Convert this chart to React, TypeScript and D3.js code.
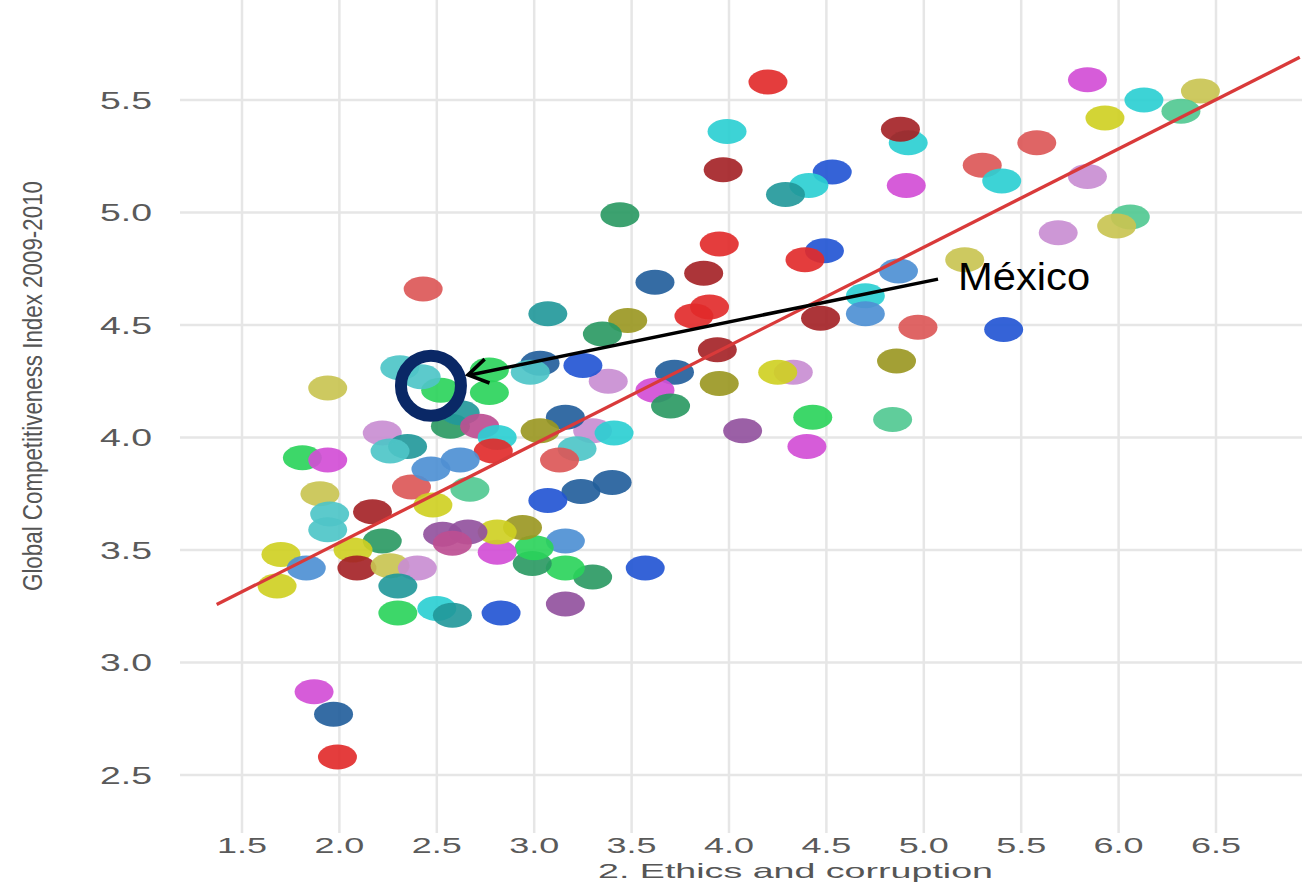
import React from "react";
import * as d3 from "d3";

const xTicks = [1.5, 2.0, 2.5, 3.0, 3.5, 4.0, 4.5, 5.0, 5.5, 6.0, 6.5];
const yTicks = [2.5, 3.0, 3.5, 4.0, 4.5, 5.0, 5.5];

const ethics = [
  4.20, 5.84, 6.13, 6.42, 6.32, 5.93, 5.58, 5.30, 5.40, 5.84,
  4.92, 4.88, 4.91, 5.69, 6.06, 5.99, 5.21, 4.87, 4.97, 5.41,
  4.86, 4.84, 4.70, 4.70, 3.99, 3.97, 4.53, 4.41, 4.29, 3.44,
  3.95, 4.49, 4.39, 3.87, 3.62, 3.90, 3.82, 3.48, 3.35, 4.47,
  3.94, 3.72, 3.62, 3.70, 3.95, 4.33, 4.25, 4.43, 4.07, 4.40,
  3.38, 3.30, 3.41, 3.07, 3.25, 3.03, 2.98, 2.77, 2.77, 3.16,
  3.03, 3.22, 3.13, 3.40, 3.24, 3.07, 3.57, 3.16, 2.83, 3.30,
  3.16, 3.16, 2.99, 3.00, 2.94, 2.81, 2.81, 2.53, 2.66, 2.58,
  2.67, 2.50, 2.58, 1.90, 1.95, 1.94, 2.17, 2.22, 1.70, 1.68,
  1.83, 2.07, 2.09, 2.26, 2.40, 2.30, 2.30, 1.87, 1.97, 1.99,
  2.37, 2.48, 2.43, 1.94, 2.57, 2.62, 2.72, 2.81, 2.79, 2.22,
  2.35, 2.26, 1.81, 1.94, 2.47, 2.62, 2.31, 2.52, 2.42,
];

const gci = [
  5.58, 5.59, 5.50, 5.54, 5.45, 5.42, 5.31, 5.21, 5.14, 5.16,
  5.31, 5.37, 5.12, 4.91, 4.98, 4.94, 4.79, 4.74, 4.49, 4.48,
  4.34, 4.08, 4.63, 4.55, 5.36, 5.19, 5.18, 5.12, 5.08, 4.99,
  4.86, 4.83, 4.79, 4.73, 4.69, 4.58, 4.54, 4.52, 4.46, 4.53,
  4.39, 4.29, 4.21, 4.14, 4.24, 4.29, 4.29, 4.09, 4.03, 3.96,
  4.25, 4.03, 4.02, 4.55, 4.32, 4.33, 4.29, 4.30, 4.20, 4.09,
  4.03, 3.95, 3.90, 3.80, 3.76, 3.72, 3.42, 3.26, 3.22, 3.38,
  3.54, 3.42, 3.44, 3.51, 3.60, 3.49, 3.58, 3.57, 3.58, 3.53,
  3.77, 3.24, 3.21, 3.75, 3.66, 3.59, 3.67, 3.54, 3.48, 3.34,
  3.42, 3.50, 3.42, 3.43, 3.42, 3.34, 3.22, 2.87, 2.77, 2.58,
  3.78, 3.70, 4.66, 4.22, 4.05, 4.11, 4.05, 4.00, 3.94, 4.02,
  3.96, 3.94, 3.91, 3.90, 3.86, 3.90, 4.31, 4.21, 4.27,
];

const dotColors = [
  "red", "magenta", "cyan", "yellowolive", "aquamarine", "yellow", "coral", "coral", "cyan", "lilac",
  "cyan", "darkred", "magenta", "lilac", "aquamarine", "yellowolive", "yellowolive", "steelblue", "coral", "blue",
  "olive", "aquamarine", "cyan", "steelblue", "cyan", "darkred", "blue", "cyan", "teal", "seagreen",
  "red", "blue", "red", "darkred", "darkblue", "red", "red", "olive", "seagreen", "darkred",
  "darkred", "darkblue", "magenta", "seagreen", "olive", "lilac", "yellow", "green", "purple", "magenta",
  "lilac", "lilac", "cyan", "teal", "blue", "darkblue", "lightcyan", "green", "green", "darkblue",
  "olive", "lightcyan", "coral", "darkblue", "darkblue", "blue", "blue", "purple", "blue", "seagreen",
  "steelblue", "green", "seagreen", "green", "olive", "magenta", "yellow", "purple", "purple", "mauve",
  "aquamarine", "cyan", "teal", "yellowolive", "lightcyan", "lightcyan", "darkred", "seagreen", "yellow", "yellow",
  "steelblue", "yellow", "darkred", "yellowolive", "lilac", "teal", "green", "magenta", "darkblue", "red",
  "coral", "yellow", "coral", "yellowolive", "seagreen", "teal", "mauve", "cyan", "red", "lilac",
  "teal", "lightcyan", "green", "magenta", "steelblue", "steelblue", "lightcyan", "green", "lightcyan",
];

const palette: Record<string, string> = {
  red: "#e22d2d",
  darkred: "#a52326",
  coral: "#dc5858",
  magenta: "#d24fd6",
  lilac: "#c98ed2",
  purple: "#92519e",
  mauve: "#bd4f92",
  blue: "#2356d4",
  darkblue: "#235f9c",
  steelblue: "#4f90d4",
  cyan: "#2ecfd2",
  lightcyan: "#4fc6c8",
  teal: "#23999b",
  green: "#2bd45b",
  seagreen: "#2a9a64",
  aquamarine: "#52c993",
  yellow: "#cfd024",
  yellowolive: "#c9c452",
  olive: "#9b9822",
};

const fitSlope = 0.4375;
const fitIntercept = 2.658;
const fitRange = [1.37, 6.93];

const mexico = { x: 2.47, y: 4.23 };
const arrowStart = { x: 5.073, y: 4.704 };
const arrowTip = { x: 2.66, y: 4.278 };
const labelPos = { x: 5.176, y: 4.656 };

const FONT = "'Liberation Sans', Arial, Helvetica, sans-serif";

export default function App() {
  const W = 1302;
  const H = 886;
  const x = d3.scaleLinear().domain([1.5, 6.5]).range([242, 1216]);
  const y = d3.scaleLinear().domain([2.5, 5.5]).range([775, 100]);
  const fmt = d3.format(".1f");

  const line = d3
    .line<number>()
    .x((d) => x(d))
    .y((d) => y(fitIntercept + fitSlope * d));

  const tipX = x(arrowTip.x);
  const tipY = y(arrowTip.y);
  const sX = x(arrowStart.x);
  const sY = y(arrowStart.y);
  const ang = Math.atan2(sY - tipY, sX - tipX);
  const headLen = 23;
  const a1 = ang - (32 * Math.PI) / 180;
  const a2 = ang + (32 * Math.PI) / 180;

  return (
    <div style={{ position: "absolute", left: 0, top: 0 }}>
      <svg width={W} height={H} style={{ display: "block", background: "#fff" }}>
        <defs>
          <filter id="soft" x="-10%" y="-10%" width="120%" height="120%">
            <feGaussianBlur stdDeviation="0.7" />
          </filter>
        </defs>
        <rect x={0} y={0} width={W} height={H} fill="#fff" />
        {/* grid */}
        <g stroke="#e6e6e6" strokeWidth={2.5}>
          {xTicks.map((t) => (
            <line key={"vx" + t} x1={x(t)} x2={x(t)} y1={0} y2={833} />
          ))}
          {yTicks.map((t) => (
            <line key={"hy" + t} x1={180} x2={W} y1={y(t)} y2={y(t)} />
          ))}
        </g>
        {/* y tick labels */}
        <g fill="#5a5a5a" fontFamily={FONT} fontSize={23}>
          {yTicks.map((t) => (
            <text
              key={"yl" + t}
              x={152}
              y={y(t) + 8.5}
              textAnchor="end"
              textLength={52}
              lengthAdjust="spacingAndGlyphs"
            >
              {fmt(t)}
            </text>
          ))}
        </g>
        {/* x tick labels */}
        <g fill="#5a5a5a" fontFamily={FONT} fontSize={22}>
          {xTicks.map((t) => (
            <text
              key={"xl" + t}
              x={x(t) - 25}
              y={853}
              textLength={50}
              lengthAdjust="spacingAndGlyphs"
            >
              {fmt(t)}
            </text>
          ))}
        </g>
        {/* axis titles */}
        <text
          x={598}
          y={878}
          fill="#555"
          fontFamily={FONT}
          fontSize={21}
          textLength={395}
          lengthAdjust="spacingAndGlyphs"
        >
          2. Ethics and corruption
        </text>
        <text
          transform={`translate(42, ${591}) rotate(-90)`}
          fill="#555"
          fontFamily={FONT}
          fontSize={28}
          textLength={410}
          lengthAdjust="spacingAndGlyphs"
        >
          Global Competitiveness Index 2009-2010
        </text>
        {/* dots */}
        <g filter="url(#soft)">
          {ethics.map((v, i) => (
            <ellipse
              key={"d" + i}
              cx={x(v)}
              cy={y(gci[i])}
              rx={19.5}
              ry={12.5}
              fill={palette[dotColors[i]]}
              fillOpacity={0.92}
            />
          ))}
        </g>
        {/* regression line */}
        <path
          d={line(fitRange) || ""}
          fill="none"
          stroke="#d93a3a"
          strokeWidth={3.3}
        />
        {/* Mexico annotation */}
        <circle
          cx={x(mexico.x)}
          cy={y(mexico.y)}
          r={30}
          fill="none"
          stroke="#0a2866"
          strokeWidth={12}
        />
        <line x1={sX} y1={sY} x2={tipX + 2} y2={tipY} stroke="#000" strokeWidth={3.5} />
        <polyline
          points={`${tipX + headLen * Math.cos(a1)},${tipY + headLen * Math.sin(a1)} ${tipX},${tipY} ${
            tipX + headLen * Math.cos(a2)
          },${tipY + headLen * Math.sin(a2)}`}
          fill="none"
          stroke="#000"
          strokeWidth={3.5}
        />
        <text
          x={x(labelPos.x)}
          y={y(labelPos.y)}
          fill="#000"
          fontFamily={FONT}
          fontSize={39}
          textLength={132}
          lengthAdjust="spacingAndGlyphs"
        >
          México
        </text>
      </svg>
    </div>
  );
}
